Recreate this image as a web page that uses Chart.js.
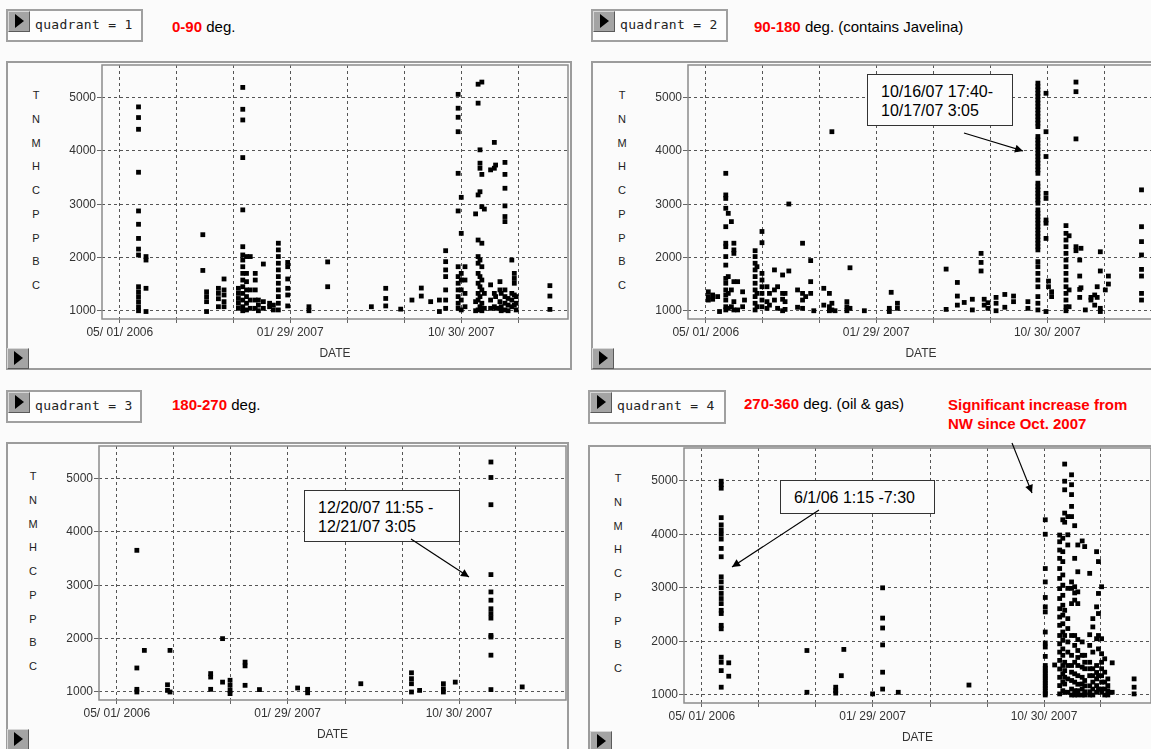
<!DOCTYPE html>
<html>
<head>
<meta charset="utf-8">
<script src="https://cdn.jsdelivr.net/npm/chart.js@4.4.1/dist/chart.umd.min.js"></script>
<style>
  html, body { margin: 0; padding: 0; }
  body {
    width: 1151px; height: 749px; overflow: hidden; position: relative;
    background: #fbfbfb; font-family: 'Liberation Sans', Arial, sans-serif;
  }
  .frame { position: absolute; box-sizing: border-box; border: 2px solid #9c9c9c; }
  .qbox {
    position: absolute; box-sizing: border-box; border: 2px solid #a0a0a0;
    background: #fdfdfd; font-family: 'DejaVu Sans Mono', monospace; font-size: 13px;
    letter-spacing: 0.3px; color: #222; white-space: pre;
  }
  .btn {
    position: absolute; box-sizing: border-box; width: 22px; height: 21px;
    background: #a4a4a4; border: 1px solid; border-color: #d8d8d8 #5a5a5a #5a5a5a #d8d8d8;
  }
  .btn::after {
    content: ''; position: absolute; left: 6px; top: 2px; width: 0; height: 0;
    border-left: 9px solid #000; border-top: 7.5px solid transparent; border-bottom: 7.5px solid transparent;
  }
  .head { position: absolute; font-size: 15px; color: #000; white-space: pre; line-height: 18px; }
  .head b { color: #ff0000; }
  .red { position: absolute; font-size: 15px; font-weight: bold; color: #ff0000; line-height: 19px; white-space: pre; }
  .letter { position: absolute; font-size: 11px; color: #222; width: 12px; text-align: center; line-height: 12px; }
  .note {
    position: absolute; box-sizing: border-box; border: 1px solid #333; background: #fcfcfc;
    font-size: 16px; line-height: 19px; color: #000; padding: 7px 0 0 13px; white-space: pre; z-index: 3;
  }
  canvas { position: absolute; z-index: 2; }
  svg { position: absolute; left: 0; top: 0; z-index: 4; }
</style>
</head>
<body>
<script>
// x values are days counted from 05/01/2006
const dateTicks = [0, 91, 182, 273, 365, 456, 547, 638];
const dateTickLabels = ['05/ 01/ 2006', '', '', '01/ 29/ 2007', '', '', '10/ 30/ 2007', ''];
const valueTicks = [1000, 2000, 3000, 4000, 5000];
const yLetters = ['T', 'N', 'M', 'H', 'C', 'P', 'P', 'B', 'C'];

// quadrant 1 (0-90 deg.)
const q1Days = [30, 42, 133, 139, 158, 167, 190, 197, 203, 209, 217, 222, 230, 240, 246, 254, 269, 303, 333,
  403, 426, 450, 468, 483, 498, 512, 522, 542, 547, 553, 570, 574, 577, 580, 584, 594, 600, 602, 609, 611,
  617, 622, 628, 632, 635, 689];
const q1Values = [
  [4825, 4625, 4405, 3600, 2875, 2625, 2360, 2160, 2050, 1455, 1360, 1270, 1175, 1080, 1005],
  [2020, 1955, 1425, 990],
  [2430, 1760],
  [1360, 1270, 1175, 990],
  [1425, 1330, 1230, 1080],
  [1600, 1395, 1300, 1175, 1080],
  [1425, 1330, 1235, 1145, 1050],
  [5190, 4780, 4580, 3875, 2895, 2205, 2050, 1955, 1830, 1705, 1580, 1455, 1330, 1205, 1080, 1005],
  [2020, 1705, 1550, 1395, 1270, 1145, 1020],
  [2020, 1395, 1205, 1050],
  [1705, 1580, 1395, 1205, 1050],
  [1205, 1110, 1005],
  [1880, 1175, 1050],
  [1145, 1080],
  [1110, 1020],
  [2270, 2145, 2020, 1895, 1770, 1645, 1520, 1395, 1270, 1145, 1020],
  [1910, 1830, 1600, 1425, 1300, 1095],
  [1080, 1005],
  [1920, 1455],
  [1080],
  [1425, 1235, 1095],
  [1035],
  [1205],
  [1430, 1280],
  [1175],
  [1205, 990],
  [2130, 1925, 1770, 1645, 1395, 1205, 1050],
  [5060, 4800, 4630, 4360, 3580, 2875, 1830, 1645, 1520, 1395, 1270, 1145, 1050],
  [3130, 2455, 1705, 1580, 1395, 1205, 1020],
  [1830, 1580, 1330, 1080],
  [2820, 1175, 1005],
  [5250, 4895, 3175, 2330, 2020, 1895, 1705, 1520, 1330, 1205, 1020],
  [4020, 3770, 3675, 3235, 1955, 1645, 1455, 1270, 1080],
  [5290, 3560, 2955, 2270, 1830, 1580, 1395, 1145, 1005],
  [2910, 1330, 1050],
  [3645, 1490, 1205, 1050],
  [4160, 3675, 1330, 1080],
  [3735, 1270, 1050],
  [1550, 1395, 1175, 1050],
  [1330, 1080, 1005],
  [3785, 3560, 3300, 2970, 2770, 2675, 1395, 1270, 1145, 1020],
  [1235, 1110, 1005],
  [1955, 1330, 1205, 1080],
  [1705, 1610, 1520, 1300, 1110],
  [1270, 1145, 1020],
  [1475, 1280, 1030]
];

// quadrant 2 (90-180 deg.)
const q2Days = [4, 11, 19, 22, 32, 36, 41, 45, 51, 59, 62, 79, 82, 90, 98, 102, 110, 115, 123, 127, 133, 147,
  155, 160, 168, 173, 189, 198, 202, 207, 226, 231, 254, 294, 297, 307, 385, 403, 414, 427, 441, 446, 452,
  465, 479, 493, 516, 532, 545, 549, 554, 577, 582, 593, 599, 601, 608, 617, 623, 627, 632, 640, 645, 698];
const q2Values = [
  [1360, 1270, 1205],
  [1300, 1220],
  [1270],
  [990],
  [3580, 3175, 3110, 2925, 2580, 2270, 2205, 2020, 1860, 1610, 1520, 1395, 1300, 1205, 1080, 1020],
  [2830, 1645, 1330, 1050],
  [2675, 1395, 1080],
  [2270, 2145, 2080, 1550, 1175, 1020],
  [1550, 1020],
  [1360, 1080],
  [1205],
  [2130, 2020, 1895, 1770, 1645, 1520, 1395, 1270, 1145, 1020],
  [1830, 1330, 1080],
  [2490, 2280, 1705, 1580, 1455, 1330, 1205, 1080],
  [1455, 1175, 1050],
  [1330, 1110],
  [1770, 1395, 1205],
  [1455, 1050],
  [1675, 1330, 1220, 1005],
  [1330, 1175, 1030],
  [3005, 1750],
  [1395, 1070],
  [2270, 1330, 1205, 1050],
  [1270],
  [1945, 1550, 1330],
  [1005],
  [1425, 1110],
  [1330, 1080, 1005],
  [4360, 1145, 1020],
  [1005],
  [1175, 1080, 1005],
  [1810, 1050],
  [1005],
  [1050, 990],
  [1350],
  [1145, 1050],
  [1785, 1030],
  [1535, 1280, 1110],
  [1160],
  [1220, 1020],
  [2080, 1910, 1750],
  [1220, 1110],
  [1155, 1050],
  [1255, 1145, 1005],
  [1310, 1070],
  [1280, 1175],
  [1175, 1050],
  [5270, 5205, 5145, 5080, 5020, 4955, 4895, 4830, 4770, 4705, 4645, 4580, 4520, 4455,
   4270, 4205, 4145, 4080, 4020, 3955, 3895, 3830, 3770, 3705, 3645, 3580,
   3395, 3330, 3270, 3205, 3145, 3080, 3020,
   2895, 2830, 2770, 2705, 2645, 2580, 2520, 2455, 2395, 2330, 2270, 2205, 2145,
   1925, 1830, 1705, 1580, 1455, 1270, 1145, 1020],
  [5080, 4360, 3895, 3205, 3110, 2705, 2645, 2360, 990],
  [1560, 1455],
  [1360, 1270],
  [2600, 2455, 2330, 2205, 2080, 1955, 1830, 1705, 1580, 1455, 1330, 1205, 1080, 1005],
  [2410, 1395, 1080],
  [5290, 5110, 4225, 2205, 2130],
  [1955, 1655, 1405, 1255],
  [2175, 1435],
  [1020],
  [1255, 1205],
  [1300, 1110],
  [1255, 1455],
  [2110, 1750, 1050, 990],
  [1395],
  [1505, 1655],
  [3270, 2580, 2300, 2050, 1780, 1655, 1330, 1205]
];

// quadrant 3 (180-270 deg.)
const q3Days = [32, 44, 81, 85, 150, 169, 181, 205, 228, 289, 305, 390, 471, 484, 522, 541, 598, 648];
const q3Values = [
  [3655, 1450, 1050, 1000],
  [1780],
  [1135, 1030],
  [1780, 1000],
  [1345, 1280, 1050],
  [2000, 1185],
  [1220, 1125, 1030, 970],
  [1560, 1490, 1125],
  [1045],
  [1075],
  [1050, 985],
  [1155],
  [1360, 1250, 1155, 1000],
  [1030],
  [1155, 1060, 1000],
  [1185],
  [5310, 5020, 4510, 3200, 2875, 2720, 2560, 2470, 2385, 2060, 2030, 1690, 1045],
  [1095]
];

// quadrant 4 (270-360 deg.)
const q4Days = [31, 43, 168, 214, 223, 227, 273, 289, 314, 427, 549, 564, 572, 577, 580, 585, 591, 596, 601,
  608, 612, 620, 625, 631, 634, 639, 644, 649, 656, 691];
const q4Values = [
  [4990, 4925, 4860, 4310, 4175, 4080, 4000, 3910, 3735, 3580, 3205, 3110, 3000, 2895, 2800, 2705, 2580,
   2520, 2300, 2235, 1705, 1610, 1455, 1145],
  [1600, 1350],
  [1830, 1050],
  [1145, 1080, 1035],
  [1360],
  [1850],
  [1020],
  [3000, 2435, 2250, 1935, 1425, 1110],
  [1050],
  [1185],
  [4270, 4000, 3360, 3110, 2820, 2645, 2550, 2175, 1970, 1895, 1720, 1550, 1500, 1455, 1410, 1360, 1320,
   1270, 1225, 1175, 1130, 1080, 1030, 1000],
  [1560],
  [3985, 3860, 3705, 3550, 3360, 3175, 2985, 2800, 2610, 2455, 2300, 2110, 1955, 1800, 1645, 1485, 1330, 1175, 1020],
  [4270, 3925, 3675, 3490, 3240, 3050, 2860, 2675, 2490, 2330, 2175, 2020, 1860, 1740, 1550, 1395, 1240, 1080],
  [5310, 4990, 4830, 4395, 4225, 2580, 2110, 1610, 1455, 1330, 1205, 1050],
  [4330, 3990, 3800, 2990, 2425, 2240, 1990, 1800, 1550, 1300, 1050],
  [5110, 4925, 4740, 4520, 4330, 3110, 2990, 2705, 2110, 1740, 1550, 1425, 1270, 1110, 1000],
  [4160, 3550, 3020, 2905, 2770, 2110, 1925, 1610, 1395, 1240, 1080, 1000],
  [3800, 3300, 2925, 2705, 2035, 1830, 1700, 1550, 1360, 1200, 1080, 1000],
  [3875, 1990, 1740, 1520, 1330, 1205, 1110, 1000],
  [3770, 1740, 1610, 1490, 1270, 1170, 1060, 1000],
  [3270, 2125, 1925, 1610, 1490, 1360, 1170, 1060, 1000],
  [2425, 2270, 1800, 1490, 1360, 1240, 1110, 1000],
  [3675, 2645, 2050, 1550, 1420, 1300, 1175, 1050],
  [3490, 2895, 2520, 2110, 1860, 1360, 1110],
  [3020, 2050, 1770, 1610, 1490, 1360, 1240, 1110, 1050],
  [1675, 1425, 1240, 1110, 1000],
  [1300, 1175, 1080, 1000],
  [1600, 1050],
  [1300, 1145, 1020]
];

// page layout for each panel
const panels = [
  { days: q1Days, values: q1Values, quad: 'quadrant = 1', range: '0-90', rest: ' deg.',
    frame: [6, 61, 566, 309], plot: [102, 65, 568, 319], box: [6, 9, 137, 33], head: [172, 18], btn: [7, 348] },
  { days: q2Days, values: q2Values, quad: 'quadrant = 2', range: '90-180', rest: ' deg. (contains Javelina)',
    frame: [591, 61, 620, 309], plot: [688, 65, 1154, 319], box: [591, 9, 137, 33], head: [754, 18], btn: [592, 348] },
  { days: q3Days, values: q3Values, quad: 'quadrant = 3', range: '180-270', rest: ' deg.',
    frame: [6, 442, 563, 400], plot: [99, 446, 566, 700], box: [6, 390, 136, 33], head: [172, 396], btn: [7, 729] },
  { days: q4Days, values: q4Values, quad: 'quadrant = 4', range: '270-360', rest: ' deg. (oil & gas)',
    frame: [588, 445, 620, 400], plot: [684, 448, 1151, 703], box: [588, 390, 138, 34], head: [744, 395], btn: [590, 731] }
];

const notes = [
  { lines: ['10/16/07 17:40-', '10/17/07 3:05'], rect: [867, 74, 146, 52] },
  { lines: ['12/20/07 11:55 -', '12/21/07 3:05'], rect: [304, 490, 156, 52] },
  { lines: ['6/1/06 1:15 -7:30'], rect: [780, 480, 155, 34] }
];
const arrows = [[964, 133, 1023, 151], [411, 539, 469, 577], [819, 510, 732, 567], [1012, 443, 1032, 493]];

Chart.defaults.font.family = "'Liberation Sans', Arial, sans-serif";

const plotFrame = {
  id: 'plotFrame',
  beforeDatasetsDraw(chart) {
    const a = chart.chartArea;
    const ctx = chart.ctx;
    ctx.save();
    ctx.strokeStyle = '#8c8c8c';
    ctx.lineWidth = 1.5;
    ctx.strokeRect(a.left, a.top, a.right - a.left, a.bottom - a.top);
    ctx.restore();
  }
};

function el(cls, css, text) {
  const d = document.createElement('div');
  d.className = cls;
  Object.assign(d.style, css);
  if (text !== undefined) d.textContent = text;
  document.body.appendChild(d);
  return d;
}

function toPoints(days, values) {
  const pts = [];
  days.forEach((d, i) => values[i].forEach(v => pts.push({ x: d, y: v })));
  return pts;
}

const PAD_TOP = 14, PAD_RIGHT = 4, X_AXIS_H = 51, Y_AXIS_W = 62;

panels.forEach(p => {
  const [fx, fy, fw, fh] = p.frame;
  el('frame', { left: fx + 'px', top: fy + 'px', width: fw + 'px', height: fh + 'px' });

  const [bx, by, bw, bh] = p.box;
  const q = el('qbox', { left: bx + 'px', top: by + 'px', width: bw + 'px', height: bh + 'px' });
  const qb = document.createElement('div');
  qb.className = 'btn';
  Object.assign(qb.style, { left: '0px', top: '0px' });
  q.appendChild(qb);
  const qt = document.createElement('span');
  Object.assign(qt.style, { position: 'absolute', left: '27px', top: '6px' });
  qt.textContent = p.quad;
  q.appendChild(qt);

  const h = el('head', { left: p.head[0] + 'px', top: p.head[1] + 'px' });
  const b = document.createElement('b');
  b.textContent = p.range;
  h.appendChild(b);
  h.appendChild(document.createTextNode(p.rest));

  el('btn', { left: p.btn[0] + 'px', top: p.btn[1] + 'px' });

  const [l, t, r, bt] = p.plot;
  yLetters.forEach((c, i) => {
    el('letter', { left: (l - 72) + 'px', top: (t + 24 + i * 23.75) + 'px' }, c);
  });

  const cv = document.createElement('canvas');
  const cw = (r - l) + Y_AXIS_W + PAD_RIGHT;
  const ch = (bt - t) + PAD_TOP + X_AXIS_H;
  cv.width = cw; cv.height = ch;
  Object.assign(cv.style, { left: (l - Y_AXIS_W) + 'px', top: (t - PAD_TOP) + 'px', width: cw + 'px', height: ch + 'px' });
  document.body.appendChild(cv);

  new Chart(cv.getContext('2d'), {
    type: 'scatter',
    data: {
      datasets: [{
        data: toPoints(p.days, p.values),
        pointStyle: 'rect',
        pointRadius: 3.4,
        pointHoverRadius: 3.4,
        backgroundColor: '#000',
        borderWidth: 0
      }]
    },
    options: {
      responsive: false,
      animation: false,
      events: [],
      layout: { padding: { top: PAD_TOP, right: PAD_RIGHT, left: 0, bottom: 0 } },
      plugins: { legend: { display: false }, tooltip: { enabled: false } },
      scales: {
        x: {
          type: 'linear',
          min: -28.5,
          max: 718,
          afterBuildTicks: s => { s.ticks = dateTicks.map(v => ({ value: v })); },
          afterFit: s => { s.height = X_AXIS_H; },
          ticks: {
            autoSkip: false, maxRotation: 0, padding: 2, color: '#333',
            font: { size: 12 },
            callback: (v, i) => dateTickLabels[i]
          },
          grid: { color: '#555', lineWidth: 1, tickColor: '#666', tickLength: 4 },
          border: { display: false, dash: [3, 3] },
          title: { display: true, text: 'DATE', color: '#333', font: { size: 12 }, padding: { top: 0, bottom: 9.5 } }
        },
        y: {
          min: 850,
          max: 5610,
          afterBuildTicks: s => { s.ticks = valueTicks.map(v => ({ value: v })); },
          afterFit: s => { s.width = Y_AXIS_W; },
          ticks: { padding: 1, color: '#333', font: { size: 12 }, callback: v => String(v) },
          grid: { color: '#555', lineWidth: 1, tickColor: '#666', tickLength: 5 },
          border: { display: false, dash: [3, 3] }
        }
      }
    },
    plugins: [plotFrame]
  });
});

el('red', { left: '948px', top: '395px' }, 'Significant increase from\nNW since Oct. 2007');

notes.forEach(n => {
  const [x, y, w, hgt] = n.rect;
  el('note', { left: x + 'px', top: y + 'px', width: w + 'px', height: hgt + 'px' }, n.lines.join('\n'));
});

const NS = 'http://www.w3.org/2000/svg';
const svg = document.createElementNS(NS, 'svg');
svg.setAttribute('width', 1151);
svg.setAttribute('height', 749);
svg.innerHTML = '<defs><marker id="ah" viewBox="0 0 10 10" refX="10" refY="5" markerWidth="10" markerHeight="8" ' +
  'markerUnits="userSpaceOnUse" orient="auto"><path d="M0,0 L10,5 L0,10 z" fill="#000"/></marker></defs>';
arrows.forEach(a => {
  const ln = document.createElementNS(NS, 'line');
  ln.setAttribute('x1', a[0]); ln.setAttribute('y1', a[1]);
  ln.setAttribute('x2', a[2]); ln.setAttribute('y2', a[3]);
  ln.setAttribute('stroke', '#000'); ln.setAttribute('stroke-width', '1.2');
  ln.setAttribute('marker-end', 'url(#ah)');
  svg.appendChild(ln);
});
document.body.appendChild(svg);
</script>
</body>
</html>
